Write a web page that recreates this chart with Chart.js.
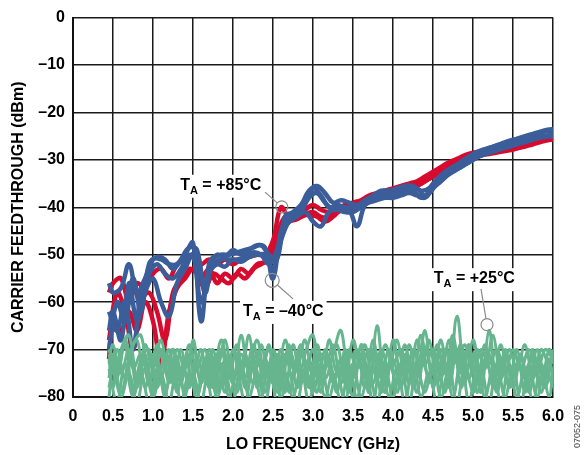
<!DOCTYPE html>
<html>
<head>
<meta charset="utf-8">
<script src="https://cdn.jsdelivr.net/npm/chart.js@4.4.0/dist/chart.umd.min.js"></script>
<style>
  body { margin: 0; background: #fff; }
  canvas { display: block; }
</style>
</head>
<body>
<canvas id="chart" width="585" height="455"></canvas>
<script>
// Carrier feedthrough vs LO frequency, three temperatures

// frequency grids (GHz)
const freqA = [0.45, 0.5, 0.6, 0.7, 0.8, 0.9, 1.0, 1.1, 1.2, 1.3,
  1.4, 1.5, 1.6, 1.7, 1.8, 1.9, 2.0, 2.1, 2.2, 2.3,
  2.4, 2.5, 2.6, 2.7, 2.8, 2.9, 3.0, 3.1, 3.2, 3.3,
  3.4, 3.5, 3.6, 3.7, 3.8, 3.9, 4.0, 4.1, 4.2, 4.3,
  4.4, 4.5, 4.6, 4.7, 4.8, 4.9, 5.0, 5.1, 5.2, 5.3,
  5.4, 5.5, 5.6, 5.7, 5.8, 5.9, 6.0];
const freqB = [0.45, 0.55, 0.65, 0.75, 0.85, 0.95, 1.05, 1.15, 1.25, 1.35,
  1.45, 1.55, 1.65, 1.75, 1.85, 1.95, 2.05, 2.15, 2.25, 2.35,
  2.45, 2.55, 2.65, 2.75, 2.85, 2.95, 3.05, 3.15, 3.25, 3.35,
  3.45, 3.55, 3.65, 3.75, 3.85, 3.95, 4.05, 4.15, 4.25, 4.35,
  4.45, 4.55, 4.65, 4.75, 4.85, 4.95, 5.05, 5.15, 5.25, 5.35,
  5.45, 5.55, 5.65, 5.75, 5.85, 5.95, 6.0];

// TA = -40°C (blue)
const cold1 = [-56, -58, -57, -52, -58, -55, -51, -51, -52, -52,
  -50, -47.5, -64, -52, -50, -50.5, -49, -50, -49, -48,
  -48.5, -55, -45, -42, -41, -39, -36, -37.5, -40, -39.5,
  -40, -40, -39.5, -38.5, -37.5, -37, -37, -36.5, -36, -36,
  -37.5, -35, -33.5, -32, -31, -29.8, -28.8, -28, -27.5, -27,
  -26.5, -26, -25.5, -25, -24.5, -24, -24];
const cold2 = [-62, -66, -60, -70, -58, -54, -52, -54, -55, -53,
  -50, -52, -56, -52, -51, -51, -51, -50.5, -49.5, -50,
  -52, -49, -44, -42.5, -41, -38, -37, -39, -40.5, -40,
  -40.5, -44, -39.5, -38.5, -38, -37.5, -37.5, -37, -36.5, -38,
  -37, -35, -33.5, -32.5, -31.5, -30.5, -29.5, -28.8, -28.2, -27.6,
  -27, -26.5, -26, -25.5, -25, -24.8, -24.5];
const cold3 = [-66, -62, -68, -56, -64, -58, -55, -60, -63, -56,
  -53, -50, -60, -54, -52, -52.5, -51, -51.5, -50.5, -50,
  -50, -53, -47, -43, -42, -41, -43, -44, -41, -40.5,
  -41, -41, -40, -39, -38.5, -38, -38, -37.5, -37, -37.5,
  -38, -36, -34.5, -33, -32, -31, -30, -29, -28.5, -28,
  -27.5, -27, -26.5, -26, -25.5, -25.2, -25];
const cold4 = [-70, -60, -64, -55, -62, -52, -50.5, -51, -53, -51,
  -48.5, -49, -58, -51, -50, -50, -49.5, -49, -48.5, -48,
  -50, -51, -42, -41, -39.5, -36.5, -35.5, -37, -39, -38.5,
  -39, -39.5, -38.5, -37.5, -36.5, -36.5, -36, -35.5, -35.5, -36.5,
  -36, -34, -32.5, -31.5, -30.5, -29.5, -28.5, -27.8, -27.2, -26.6,
  -26, -25.5, -25, -24.5, -24, -23.6, -23.5];

// TA = +85°C (red)
const hot1 = [-58, -56, -55, -60, -56, -57, -54, -53, -55, -52,
  -51, -50, -52, -51, -52, -51, -52, -51, -50.5, -50,
  -50, -47, -40, -42, -41.5, -40.5, -39.5, -40.5, -41, -40.5,
  -39.5, -39, -38.5, -37.5, -37, -36.5, -36, -35.5, -35, -34.5,
  -33.5, -32.5, -31.5, -30.5, -29.8, -29, -28.5, -28.2, -28, -27.7,
  -27.4, -27, -26.5, -26.2, -25.8, -25.5, -25.3];
const hot2 = [-68, -58, -62, -70, -60, -58, -62, -68, -58, -55,
  -53, -54, -57, -54, -55, -56, -54, -55, -53, -52,
  -51, -46, -42, -42.5, -42, -41.5, -42, -43, -42, -40.5,
  -40, -39.5, -38.5, -38, -37.5, -37, -36.5, -36, -35.5, -35,
  -34, -33, -32, -31, -30.3, -29.6, -29.2, -28.9, -28.6, -28.3,
  -28, -27.6, -27.2, -26.7, -26.2, -25.8, -25.7];
const hot3 = [-72, -64, -66, -62, -66, -60, -64, -73, -62, -57,
  -55, -53, -55, -53, -56, -54, -55, -53, -54, -52,
  -51.5, -50, -44, -43, -42.5, -41.5, -41, -42, -42, -41,
  -40.5, -40, -39.5, -38.5, -38, -37.5, -37, -36.5, -36, -35.5,
  -34.5, -33.5, -32.5, -31.5, -30.5, -29.8, -29.2, -28.8, -28.5, -28.2,
  -27.9, -27.5, -27, -26.6, -26.2, -25.8, -25.6];

// TA = +25°C (green)
const room1 = [-72, -78, -70, -67, -76, -71, -79, -70, -77, -72,
  -80, -68, -77, -71, -79, -72, -77, -67, -75, -71,
  -79, -70, -76, -69, -78, -71, -67, -77, -72, -79,
  -70, -76, -71, -79, -65, -77, -72, -78, -69, -76,
  -66, -78, -70, -76, -63, -75, -71, -79, -66, -77,
  -71, -78, -72, -77, -70, -76, -71];
const room2 = [-78, -70, -76, -69, -67, -77, -72, -80, -70, -76,
  -71, -79, -72, -78, -70, -76, -69, -78, -72, -77,
  -69, -79, -71, -76, -70, -78, -69, -76, -71, -66,
  -77, -70, -78, -68, -76, -70, -79, -71, -76, -67,
  -77, -69, -75, -67, -78, -70, -77, -69, -78, -72,
  -77, -70, -79, -71, -77, -70, -73];
const room3 = [-76, -71, -79, -72, -68, -78, -71, -76, -70, -79,
  -72, -76, -70, -78, -71, -79, -70, -76, -67, -78,
  -72, -77, -70, -79, -72, -76, -70, -79, -68, -75,
  -72, -80, -69, -75, -71, -79, -68, -75, -72, -79,
  -70, -75, -68, -78, -70, -77, -68, -75, -71, -79,
  -70, -76, -71, -79, -72, -78, -70];
const room4 = [-70, -75, -69, -79, -72, -70, -78, -71, -77, -70,
  -78, -72, -76, -70, -78, -72, -79, -71, -77, -69,
  -76, -71, -79, -69, -77, -72, -79, -70, -77, -72,
  -79, -71, -76, -70, -79, -73, -77, -69, -78, -71,
  -76, -72, -79, -70, -75, -69, -79, -72, -76, -69,
  -78, -73, -76, -70, -79, -72, -76];
const room5 = [-80, -74, -80, -75, -81, -74, -80, -75, -81, -74,
  -79, -75, -81, -74, -80, -75, -81, -73, -80, -75,
  -81, -74, -80, -75, -81, -74, -79, -73, -80, -75,
  -81, -73, -80, -75, -81, -74, -80, -73, -81, -74,
  -79, -73, -80, -74, -81, -73, -79, -74, -81, -73,
  -80, -74, -81, -73, -80, -74, -78];
const room6 = [-74, -81, -73, -80, -75, -81, -74, -79, -73, -81,
  -75, -80, -74, -81, -73, -80, -75, -81, -74, -80,
  -73, -81, -75, -80, -74, -81, -73, -80, -75, -81,
  -74, -80, -73, -81, -72, -80, -74, -81, -73, -80,
  -75, -81, -73, -80, -72, -81, -73, -80, -74, -81,
  -73, -80, -74, -81, -73, -80, -74];
const room7 = [-73, -69, -75, -70, -78, -69, -74, -68, -76, -70,
  -74, -69, -77, -70, -74, -68, -76, -71, -74, -68,
  -75, -72, -78, -70, -74, -68, -76, -71, -73, -69,
  -77, -68, -74, -70, -76, -69, -73, -70, -77, -68,
  -73, -70, -76, -68, -73, -69, -75, -70, -73, -70,
  -75, -70, -74, -70, -75, -70, -72];
const room8 = [-71, -76, -68, -74, -71, -77, -69, -73, -70, -77,
  -69, -74, -70, -76, -68, -73, -71, -76, -69, -74,
  -70, -77, -68, -74, -69, -76, -71, -74, -69, -77,
  -70, -74, -69, -77, -70, -74, -68, -76, -70, -74,
  -68, -77, -70, -73, -69, -76, -70, -74, -67, -76,
  -70, -74, -69, -76, -70, -73, -71];

const xTicks = [0, 0.5, 1.0, 1.5, 2.0, 2.5, 3.0, 3.5, 4.0, 4.5, 5.0, 5.5, 6.0];
const yTicks = [0, -10, -20, -30, -40, -50, -60, -70, -80];

const RED = '#d80a2e';
const BLUE = '#3b5e9a';
const GREEN = '#66b58f';
const FONT = '"Liberation Sans", Arial, sans-serif';

function series(freq, vals, color, width) {
  return {
    data: freq.map((f, i) => ({ x: f, y: vals[i] })),
    borderColor: color,
    borderWidth: width,
    pointRadius: 0,
    tension: 0.4,
    fill: false
  };
}

// first dataset is painted last, so green sits on top, then blue, then red
const datasets = [
  series(freqA, room1, GREEN, 3),
  series(freqB, room2, GREEN, 3),
  series(freqA, room3, GREEN, 3),
  series(freqB, room4, GREEN, 3),
  series(freqA, room5, GREEN, 3),
  series(freqB, room6, GREEN, 3),
  series(freqA, room7, GREEN, 3),
  series(freqB, room8, GREEN, 3),
  series(freqA, cold1, BLUE, 4.5),
  series(freqB, cold2, BLUE, 4.5),
  series(freqA, cold3, BLUE, 4.5),
  series(freqB, cold4, BLUE, 4.5),
  series(freqA, hot1, RED, 4.5),
  series(freqB, hot2, RED, 4.5),
  series(freqA, hot3, RED, 4.5)
];

// callouts: text anchor, leader start, circled point (data units)
const callouts = [
  { temp: '+85°C', tx: 1.34, ty: -36.3, lx: 2.4, ly: -36.8, cx: 2.61, cy: -39.9, r: 6 },
  { temp: '–40°C', tx: 2.125, ty: -62.9, lx: 2.75, ly: -59.3, cx: 2.49, cy: -55.4, r: 7 },
  { temp: '+25°C', tx: 4.51, ty: -56.0, lx: 5.1, ly: -57.2, cx: 5.175, cy: -64.75, r: 6 }
];

const calloutPlugin = {
  id: 'callouts',
  afterDatasetsDraw(chart) {
    const { ctx, scales: { x, y } } = chart;
    ctx.save();
    callouts.forEach(c => {
      const tx = x.getPixelForValue(c.tx), ty = y.getPixelForValue(c.ty);
      const rest = ' = ' + c.temp;
      ctx.font = 'bold 16px ' + FONT;
      const wT = ctx.measureText('T').width;
      const wRest = ctx.measureText(rest).width;
      ctx.font = 'bold 11px ' + FONT;
      const wA = ctx.measureText('A').width;
      const w = wT + wA + wRest;
      ctx.fillStyle = '#fff';
      ctx.fillRect(tx - 3, ty - 15, w + 6, 23);
      ctx.fillStyle = '#000';
      ctx.textBaseline = 'alphabetic';
      ctx.textAlign = 'left';
      ctx.font = 'bold 16px ' + FONT;
      ctx.fillText('T', tx, ty);
      ctx.font = 'bold 11px ' + FONT;
      ctx.fillText('A', tx + wT, ty + 4);
      ctx.font = 'bold 16px ' + FONT;
      ctx.fillText(rest, tx + wT + wA, ty);

      const cx = x.getPixelForValue(c.cx), cy = y.getPixelForValue(c.cy);
      const lx = x.getPixelForValue(c.lx), ly = y.getPixelForValue(c.ly);
      const d = Math.hypot(lx - cx, ly - cy);
      ctx.strokeStyle = '#8a8a8a';
      ctx.lineWidth = 1.2;
      ctx.beginPath();
      ctx.moveTo(lx, ly);
      ctx.lineTo(cx + (lx - cx) / d * c.r, cy + (ly - cy) / d * c.r);
      ctx.stroke();
      ctx.beginPath();
      ctx.arc(cx, cy, c.r, 0, Math.PI * 2);
      ctx.stroke();
    });
    ctx.restore();
  },
  afterDraw(chart) {
    const ctx = chart.ctx;
    ctx.save();
    ctx.translate(578, 448);
    ctx.rotate(-Math.PI / 2);
    ctx.font = '9px ' + FONT;
    ctx.fillStyle = '#444';
    ctx.textAlign = 'left';
    ctx.textBaseline = 'middle';
    ctx.fillText('07052-075', 0, 0);
    ctx.restore();
  }
};

new Chart(document.getElementById('chart'), {
  type: 'line',
  data: { datasets },
  plugins: [calloutPlugin],
  options: {
    responsive: false,
    animation: false,
    layout: { padding: { left: 0, right: 32, top: 14, bottom: 0 } },
    plugins: { legend: { display: false }, tooltip: { enabled: false } },
    scales: {
      x: {
        type: 'linear',
        min: 0,
        max: 6,
        afterBuildTicks: axis => { axis.ticks = xTicks.map(v => ({ value: v })); },
        afterFit: axis => { axis.height = 58; },
        ticks: {
          color: '#000',
          padding: 10,
          maxRotation: 0,
          font: { family: FONT, size: 16, weight: 'bold' },
          callback: v => v === 0 ? '0' : v.toFixed(1)
        },
        grid: { color: '#1a1a1a', lineWidth: 1.5, drawTicks: false },
        border: { color: '#111', width: 2 },
        title: {
          display: true,
          text: 'LO FREQUENCY (GHz)',
          color: '#000',
          font: { family: FONT, size: 16, weight: 'bold' },
          padding: { top: 0, bottom: 1 }
        }
      },
      y: {
        type: 'linear',
        min: -80,
        max: 0,
        afterBuildTicks: axis => { axis.ticks = yTicks.map(v => ({ value: v })); },
        afterFit: axis => { axis.width = 73; },
        ticks: {
          color: '#000',
          padding: 8,
          font: { family: FONT, size: 16, weight: 'bold' },
          callback: v => v === 0 ? '0' : '–' + Math.abs(v)
        },
        grid: { color: '#1a1a1a', lineWidth: 1.5, drawTicks: false },
        border: { color: '#111', width: 2 },
        title: {
          display: true,
          text: 'CARRIER FEEDTHROUGH (dBm)',
          color: '#000',
          font: { family: FONT, size: 16, weight: 'bold' },
          padding: { top: 9, bottom: 0 }
        }
      }
    }
  }
});
</script>
</body>
</html>
